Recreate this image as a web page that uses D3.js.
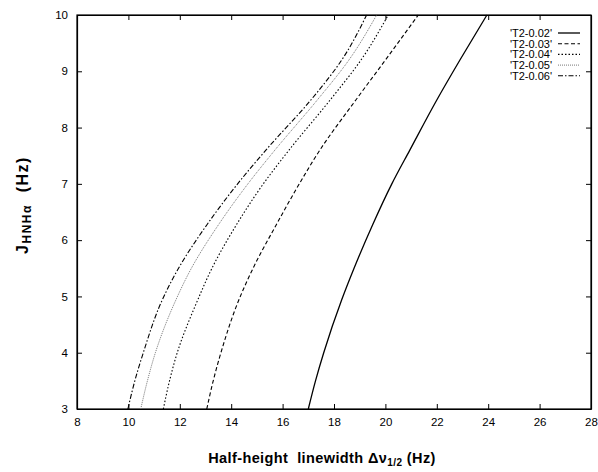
<!DOCTYPE html>
<html>
<head>
<meta charset="utf-8">
<script src="https://cdn.jsdelivr.net/npm/d3@7"></script>
<style>
  body { margin: 0; background: #fff; }
  text { font-family: "Liberation Sans", Arial, sans-serif; }
</style>
</head>
<body>
<svg id="chart" width="598" height="472"></svg>
<script>
// coupling constant values (y) shared by all curves
var jValues = [3, 3.5, 4, 4.94, 5.5, 6.27, 7, 7.6, 8.49, 9.2, 10]

// linewidth (x) for each T2 value
var seriesNames = ["'T2-0.02'", "'T2-0.03'", "'T2-0.04'", "'T2-0.05'", "'T2-0.06'"]
var w002 = [17.0, 17.28, 17.6, 18.3, 18.78, 19.5, 20.25, 20.95, 22.0, 22.9, 23.95]
var w003 = [13.05, 13.3, 13.6, 14.3, 14.85, 15.75, 16.65, 17.45, 18.85, 20.0, 21.28]
var w004 = [11.36, 11.6, 11.9, 12.7, 13.25, 14.2, 15.25, 16.25, 17.85, 19.05, 20.11]
var w005 = [10.48, 10.74, 11.05, 11.85, 12.45, 13.5, 14.65, 15.7, 17.35, 18.58, 19.66]
var w006 = [9.98, 10.25, 10.58, 11.32, 11.95, 13.05, 14.25, 15.35, 17.1, 18.3, 19.27]
var seriesValues = [w002, w003, w004, w005, w006]

var xTicks = [8, 10, 12, 14, 16, 18, 20, 22, 24, 26, 28]
var yTicks = [3, 4, 5, 6, 7, 8, 9, 10]

var styles = [
  { stroke: '#000', width: 1.3, dash: null },
  { stroke: '#000', width: 1.1, dash: '4,2.5' },
  { stroke: '#000', width: 1.1, dash: '1.5,2' },
  { stroke: '#777', width: 1, dash: '1,1' },
  { stroke: '#000', width: 1.1, dash: '5,2,1.5,2' }
]

var svg = d3.select('#chart')
var plotL = 77, plotR = 591, plotT = 15, plotB = 409

var x = d3.scaleLinear().domain([8, 28]).range([plotL, plotR])
var y = d3.scaleLinear().domain([3, 10]).range([plotB, plotT])

// axes with inward ticks, mirrored on top and right
svg.append('g')
    .attr('transform', `translate(0, ${plotB})`)
    .call(d3.axisBottom(x).tickValues(xTicks).tickFormat(d3.format('d')).tickSizeInner(-5).tickSizeOuter(0).tickPadding(9))
svg.append('g')
    .attr('transform', `translate(0, ${plotT})`)
    .call(d3.axisTop(x).tickValues(xTicks).tickSizeInner(-5).tickSizeOuter(0).tickFormat(''))
svg.append('g')
    .attr('transform', `translate(${plotL}, 0)`)
    .call(d3.axisLeft(y).tickValues(yTicks).tickFormat(d3.format('d')).tickSizeInner(-5).tickSizeOuter(0).tickPadding(9))
svg.append('g')
    .attr('transform', `translate(${plotR}, 0)`)
    .call(d3.axisRight(y).tickValues(yTicks).tickSizeInner(-5).tickSizeOuter(0).tickFormat(''))

svg.selectAll('.domain').attr('stroke', '#000').attr('stroke-width', 1.2)
svg.selectAll('.tick line').attr('stroke', '#000')
svg.selectAll('.tick text')
    .attr('font-size', 11.5)
    .attr('fill', '#000')

svg.append('rect')
    .attr('x', plotL).attr('y', plotT)
    .attr('width', plotR - plotL).attr('height', plotB - plotT)
    .attr('fill', 'none').attr('stroke', '#000').attr('stroke-width', 1.2)

var line = d3.line()
    .x(d => x(d[0]))
    .y(d => y(d[1]))
    .curve(d3.curveMonotoneY)

var plot = svg.append('g')
seriesValues.forEach(function (vals, i) {
  var pts = vals.map((v, k) => [v, jValues[k]])
  plot.append('path')
      .datum(pts)
      .attr('d', line)
      .attr('fill', 'none')
      .attr('stroke', styles[i].stroke)
      .attr('stroke-width', styles[i].width)
      .attr('stroke-dasharray', styles[i].dash)
})

// legend
var legend = svg.append('g')
seriesNames.forEach(function (name, i) {
  var ly = 33 + i * 10.7
  legend.append('text')
      .attr('x', 552).attr('y', ly + 4)
      .attr('text-anchor', 'end')
      .attr('font-size', 11)
      .text(name)
  legend.append('line')
      .attr('x1', 558).attr('x2', 580)
      .attr('y1', ly).attr('y2', ly)
      .attr('stroke', styles[i].stroke)
      .attr('stroke-width', styles[i].width)
      .attr('stroke-dasharray', styles[i].dash)
})

// axis titles
var xt = svg.append('text')
    .attr('x', 322).attr('y', 463)
    .attr('text-anchor', 'middle')
    .attr('font-size', 14.5)
    .attr('font-weight', 'bold')
    .attr('letter-spacing', 0.4)
    .style('white-space', 'pre')
xt.append('tspan').text('Half-height  linewidth \u0394\u03bd')
xt.append('tspan').attr('font-size', 10).attr('dy', 3).text('1/2')
xt.append('tspan').attr('dy', -3).text(' (Hz)')

var yt = svg.append('text')
    .attr('transform', 'translate(28, 205) rotate(-90)')
    .attr('text-anchor', 'middle')
    .attr('font-size', 16)
    .attr('font-weight', 'bold')
    .attr('letter-spacing', 1.5)
    .style('white-space', 'pre')
yt.append('tspan').text('J')
yt.append('tspan').attr('font-size', 12).attr('dy', 3).text('HNH\u03b1')
yt.append('tspan').attr('dy', -3).text('  (Hz)')
</script>
</body>
</html>
